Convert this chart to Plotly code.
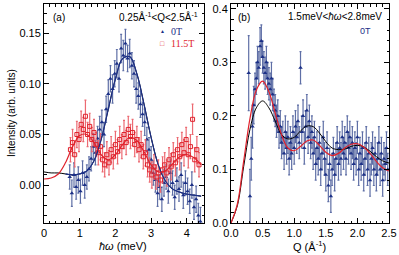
import numpy as np
import plotly.graph_objects as go

# ---------------- Panel (a) data ----------------
a_x_0T = np.round(np.arange(0.72, 4.39, 0.06), 2)
a_y_0T = [0.008, -0.008, 0.010, -0.002, 0.005, -0.006, 0.012, 0.000, 0.008, 0.016,
          0.026, 0.038, 0.032, 0.046, 0.055, 0.062, 0.050, 0.075, 0.090, 0.105,
          0.095, 0.110, 0.120, 0.105, 0.135, 0.128, 0.140, 0.125, 0.130, 0.118,
          0.110, 0.095, 0.088, 0.080, 0.070, 0.062, 0.045, 0.035, 0.025, 0.012,
          0.005, -0.008, -0.002, -0.014, 0.002, 0.008, -0.006, 0.012, 0.002, -0.012,
          0.004, -0.004, 0.010, -0.010, 0.002, -0.006, -0.016, 0.000, -0.022, -0.014,
          -0.030, -0.036]
a_e_0T = [0.012, 0.013, 0.012, 0.012, 0.013, 0.012, 0.012, 0.013, 0.012, 0.012,
          0.012, 0.013, 0.012, 0.012, 0.013, 0.012, 0.012, 0.013, 0.014, 0.013,
          0.014, 0.013, 0.014, 0.013, 0.014, 0.015, 0.014, 0.013, 0.014, 0.013,
          0.013, 0.014, 0.013, 0.013, 0.012, 0.013, 0.012, 0.012, 0.013, 0.012,
          0.012, 0.013, 0.012, 0.012, 0.013, 0.012, 0.012, 0.013, 0.012, 0.012,
          0.013, 0.012, 0.012, 0.013, 0.012, 0.013, 0.012, 0.013, 0.012, 0.013,
          0.012, 0.014]

a_x_11T = np.round(np.arange(0.74, 4.35, 0.06), 2)
a_y_11T = [0.035, 0.042, 0.030, 0.050, 0.045, 0.060, 0.055, 0.068, 0.050, 0.058,
           0.045, 0.052, 0.040, 0.032, 0.038, 0.025, 0.020, 0.030, 0.022, 0.035,
           0.028, 0.040, 0.033, 0.045, 0.038, 0.050, 0.042, 0.055, 0.048, 0.052,
           0.040, 0.045, 0.035, 0.040, 0.028, 0.032, 0.020, 0.015, 0.010, 0.018,
           0.008, 0.012, 0.005, 0.015, 0.020, 0.012, 0.025, 0.018, 0.030, 0.022,
           0.035, 0.028, 0.040, 0.032, 0.045, 0.030, 0.038, 0.065, 0.025, 0.035,
           0.020]
a_e_11T = [0.012, 0.013, 0.012, 0.013, 0.012, 0.013, 0.012, 0.016, 0.012, 0.013,
           0.012, 0.013, 0.012, 0.012, 0.013, 0.012, 0.012, 0.013, 0.012, 0.013,
           0.012, 0.013, 0.012, 0.013, 0.012, 0.014, 0.012, 0.013, 0.012, 0.013,
           0.012, 0.013, 0.012, 0.013, 0.012, 0.013, 0.012, 0.012, 0.013, 0.012,
           0.012, 0.013, 0.012, 0.013, 0.012, 0.013, 0.012, 0.013, 0.012, 0.013,
           0.012, 0.013, 0.012, 0.013, 0.012, 0.013, 0.012, 0.015, 0.012, 0.013,
           0.012]

a_fit_x = [0.0, 0.2, 0.4, 0.6, 0.8, 1.0, 1.2, 1.4, 1.6, 1.8, 2.0, 2.2,
           2.4, 2.6, 2.8, 3.0, 3.2, 3.4, 3.6, 3.8, 4.0, 4.2, 4.4]
a_fit_0T = [0.013, 0.012, 0.012, 0.011, 0.010, 0.011, 0.014, 0.024, 0.045, 0.075,
            0.105, 0.125, 0.127, 0.110, 0.080, 0.047, 0.020, 0.004, -0.004, -0.007,
            -0.009, -0.010, -0.011]
a_fit_11T = [0.006, 0.007, 0.011, 0.022, 0.038, 0.049, 0.050, 0.042, 0.030, 0.025,
             0.030, 0.040, 0.047, 0.044, 0.033, 0.020, 0.013, 0.014, 0.021, 0.028,
             0.030, 0.027, 0.020]

# ---------------- Panel (b) data ----------------
b_x = np.round(np.arange(0.28, 2.49, 0.02), 2)
b_y = [0.28, 0.05, 0.12, 0.18, 0.22, 0.25, 0.27, 0.30, 0.29, 0.33,
       0.34, 0.31, 0.29, 0.28, 0.30, 0.27, 0.26, 0.25, 0.27, 0.24,
       0.22, 0.21, 0.19, 0.20, 0.17, 0.18, 0.15, 0.16, 0.13, 0.17,
       0.14, 0.16, 0.12, 0.15, 0.13, 0.17, 0.14, 0.18, 0.16, 0.19,
       0.15, 0.29, 0.17, 0.20, 0.14, 0.18, 0.21, 0.16, 0.19, 0.15,
       0.17, 0.13, 0.16, 0.11, 0.14, 0.12, 0.15, 0.10, 0.13, 0.16,
       0.12, 0.09, 0.14, 0.07, 0.11, 0.05, 0.10, 0.13, 0.09, 0.12,
       0.15, 0.11, 0.14, 0.12, 0.16, 0.13, 0.15, 0.12, 0.17, 0.14,
       0.16, 0.13, 0.15, 0.11, 0.14, 0.12, 0.16, 0.10, 0.13, 0.11,
       0.14, 0.09, 0.12, 0.15, 0.10, 0.13, 0.08, 0.12, 0.14, 0.10,
       0.13, 0.09, 0.12, 0.15, 0.10, 0.13, 0.08, 0.12, 0.11, 0.14,
       0.10]
b_e = [0.07, 0.05, 0.04, 0.04, 0.035, 0.03, 0.03, 0.03, 0.03, 0.035,
       0.03, 0.03, 0.03, 0.03, 0.03, 0.03, 0.03, 0.03, 0.03, 0.03,
       0.03, 0.03, 0.03, 0.03, 0.03, 0.03, 0.03, 0.03, 0.03, 0.03,
       0.03, 0.03, 0.03, 0.03, 0.03, 0.03, 0.03, 0.03, 0.03, 0.03,
       0.03, 0.03, 0.03, 0.03, 0.03, 0.03, 0.03, 0.03, 0.03, 0.03,
       0.03, 0.03, 0.03, 0.03, 0.03, 0.03, 0.03, 0.03, 0.03, 0.03,
       0.03, 0.03, 0.03, 0.03, 0.03, 0.03, 0.03, 0.03, 0.03, 0.03,
       0.03, 0.03, 0.03, 0.03, 0.03, 0.03, 0.03, 0.03, 0.03, 0.03,
       0.03, 0.03, 0.03, 0.03, 0.03, 0.03, 0.03, 0.03, 0.03, 0.03,
       0.03, 0.03, 0.03, 0.03, 0.03, 0.03, 0.03, 0.03, 0.03, 0.03,
       0.03, 0.03, 0.03, 0.03, 0.03, 0.03, 0.03, 0.03, 0.03, 0.03,
       0.03]

b_fit_x = [0.0, 0.1, 0.2, 0.3, 0.4, 0.5, 0.6, 0.7, 0.8, 0.9, 1.0, 1.1, 1.2,
           1.3, 1.4, 1.5, 1.6, 1.7, 1.8, 1.9, 2.0, 2.1, 2.2, 2.3, 2.4, 2.5]
b_fit_red = [0.0, 0.035, 0.115, 0.195, 0.248, 0.265, 0.245, 0.205, 0.165, 0.140,
             0.135, 0.143, 0.153, 0.155, 0.145, 0.132, 0.126, 0.130, 0.140, 0.147,
             0.148, 0.142, 0.130, 0.115, 0.103, 0.097]
b_fit_black = [0.0, 0.032, 0.105, 0.175, 0.215, 0.228, 0.215, 0.190, 0.165, 0.157,
               0.160, 0.172, 0.181, 0.180, 0.168, 0.152, 0.140, 0.137, 0.138, 0.143,
               0.145, 0.142, 0.134, 0.124, 0.116, 0.112]

NAVY = "#1b2f86"
NAVY_ERR = "#5f6fa6"
RED = "#e0222c"
RED_ERR = "#ec6a72"
SANS = "Liberation Sans, Arial, sans-serif"
SERIF = "Liberation Serif, Times New Roman, serif"

fig = go.Figure()

# Panel (a)
fig.add_trace(go.Scatter(x=a_fit_x, y=a_fit_0T, mode="lines", line=dict(color="black", width=1, shape="spline"),
                         xaxis="x", yaxis="y", showlegend=False, hoverinfo="skip"))
fig.add_trace(go.Scatter(x=a_x_0T, y=a_y_0T, mode="markers",
                         error_y=dict(type="data", array=a_e_0T, color=NAVY_ERR, thickness=1.2, width=1),
                         marker=dict(symbol="triangle-up", size=4, color=NAVY),
                         xaxis="x", yaxis="y", showlegend=False))
fig.add_trace(go.Scatter(x=a_x_11T, y=a_y_11T, mode="markers",
                         error_y=dict(type="data", array=a_e_11T, color=RED_ERR, thickness=1.2, width=1),
                         marker=dict(symbol="square-open", size=4, color=RED, line=dict(width=1)),
                         xaxis="x", yaxis="y", showlegend=False))
fig.add_trace(go.Scatter(x=a_fit_x[3:], y=a_fit_0T[3:], mode="lines", line=dict(color=NAVY, width=1.2, shape="spline"),
                         xaxis="x", yaxis="y", showlegend=False, hoverinfo="skip"))
fig.add_trace(go.Scatter(x=a_fit_x, y=a_fit_11T, mode="lines", line=dict(color=RED, width=1.2, shape="spline"),
                         xaxis="x", yaxis="y", showlegend=False, hoverinfo="skip"))

# Panel (b)
fig.add_trace(go.Scatter(x=b_x, y=b_y, mode="markers",
                         error_y=dict(type="data", array=b_e, color=NAVY_ERR, thickness=1.2, width=1),
                         marker=dict(symbol="triangle-up", size=4, color=NAVY),
                         xaxis="x2", yaxis="y2", showlegend=False))
fig.add_trace(go.Scatter(x=b_fit_x, y=b_fit_black, mode="lines", line=dict(color="black", width=1, shape="spline"),
                         xaxis="x2", yaxis="y2", showlegend=False, hoverinfo="skip"))
fig.add_trace(go.Scatter(x=b_fit_x, y=b_fit_red, mode="lines", line=dict(color=RED, width=1.2, shape="spline"),
                         xaxis="x2", yaxis="y2", showlegend=False, hoverinfo="skip"))

W, H = 399, 255
ydom = [1 - 223 / H, 1 - 4 / H]
axis_common = dict(showline=True, linecolor="black", linewidth=1, mirror="allticks",
                   ticks="inside", ticklen=5, tickcolor="black", showgrid=False, zeroline=False,
                   automargin=False,
                   tickfont=dict(family=SANS, size=11, color="black"))

fig.update_layout(
    width=W, height=H, margin=dict(l=0, r=0, t=0, b=0, autoexpand=False),
    paper_bgcolor="white", plot_bgcolor="white",
    xaxis=dict(domain=[44 / W, 204 / W], range=[0, 4.48], dtick=1, tick0=0,
               minor=dict(dtick=1 / 6, ticks="inside", ticklen=2.5, tickcolor="black"),
               anchor="y", **axis_common),
    yaxis=dict(domain=ydom, range=[-0.0375, 0.179], dtick=0.05, tick0=0, tickformat=".2f",
               minor=dict(dtick=0.01, ticks="inside", ticklen=2.5, tickcolor="black"),
               anchor="x", **axis_common),
    xaxis2=dict(domain=[231 / W, 389 / W], range=[0, 2.5], dtick=0.5, tick0=0, tickformat=".1f",
                minor=dict(dtick=0.1, ticks="inside", ticklen=2.5, tickcolor="black"),
                anchor="y2", **axis_common),
    yaxis2=dict(domain=ydom, range=[0, 0.409], dtick=0.1, tick0=0, tickformat=".1f",
                minor=dict(dtick=0.02, ticks="inside", ticklen=2.5, tickcolor="black"),
                anchor="x2", **axis_common),
)

def pt(xp, yp):
    return xp / W, 1 - yp / H

ann = []
def add(text, xp, yp, size=10, color="black", family=SANS, xanchor="center", angle=0):
    x, y = pt(xp, yp)
    ann.append(dict(text=text, x=x, y=y, xref="paper", yref="paper", showarrow=False,
                    xanchor=xanchor, yanchor="middle", textangle=angle,
                    font=dict(size=size, color=color, family=family)))

add("Intensity (arb. units)", 11, 113, size=10, angle=-90)
add("<i>ħω</i> (meV)", 123, 246, size=11)
add("Q (Å<sup>-1</sup>)", 309, 246, size=11)
add("(a)", 59, 18, size=10)
add("0.25Å<sup>-1</sup><Q<2.5Å<sup>-1</sup>", 200, 17, size=10, xanchor="right")
add("▲", 162, 31, size=5, color=NAVY)
add("0T", 169, 31, size=10, color=NAVY, family=SERIF, xanchor="left")
add("□", 162, 43, size=7, color=RED)
add("11.5T", 169, 43, size=10, color=RED, family=SERIF, xanchor="left")
add("(b)", 244, 18, size=10)
add("1.5meV<<i>ħω</i><2.8meV", 384, 17, size=10, xanchor="right")
add("0T", 365, 31, size=9, color=NAVY)
fig.update_layout(annotations=ann)

fig.write_html("out.html", config={"displayModeBar": False},
               post_script="document.body.style.margin='0';document.body.style.overflow='hidden';")
